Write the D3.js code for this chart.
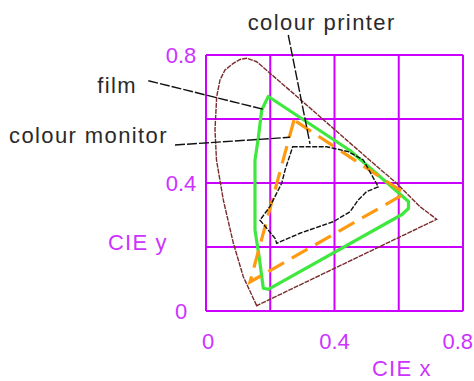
<!DOCTYPE html>
<html>
<head>
<meta charset="utf-8">
<script src="https://cdn.jsdelivr.net/npm/d3@7"></script>
<style>
  html, body { margin: 0; padding: 0; background: #fff; }
  svg { display: block; }
  text { font-family: "Liberation Sans", Arial, sans-serif; }
</style>
</head>
<body>
<svg id="chart" width="474" height="381"></svg>
<script>
// Chromaticity coordinates (CIE x, CIE y)
const gridTicks = [0, 0.2, 0.4, 0.6, 0.8];
const axisTickLabels = [0, 0.4, 0.8];

// spectral locus, closed by the line of purples
const spectralLocus = [
  [0.1578, 0.0166], [0.1161, 0.107], [0.085, 0.2125], [0.0539, 0.347],
  [0.0326, 0.472], [0.028, 0.566], [0.0333, 0.670], [0.0436, 0.722],
  [0.0591, 0.753], [0.085, 0.774], [0.1059, 0.786], [0.1266, 0.790],
  [0.1578, 0.779], [0.1993, 0.743], [0.2718, 0.680], [0.4379, 0.534],
  [0.5208, 0.4616], [0.5935, 0.399], [0.666, 0.326], [0.718, 0.2866]
];

// film gamut
const filmGamut = [
  [0.1939, 0.6703], [0.1734, 0.628], [0.1628, 0.5406], [0.1525, 0.472],
  [0.1525, 0.253], [0.165, 0.172], [0.1784, 0.071], [0.1939, 0.0678],
  [0.610, 0.3016], [0.6303, 0.3203], [0.6303, 0.3422], [0.4483, 0.5016]
];

// colour printer gamut
const printerGamut = [
  [0.2739, 0.5969], [0.137, 0.0906], [0.6194, 0.3672]
];

// colour monitor gamut
const monitorGamut = [
  [0.2699, 0.5134], [0.3756, 0.5134], [0.4429, 0.498], [0.4896, 0.472],
  [0.5158, 0.425], [0.5363, 0.388], [0.500, 0.373], [0.4738, 0.347],
  [0.4481, 0.310], [0.3963, 0.279], [0.2925, 0.243], [0.220, 0.2116],
  [0.215, 0.227], [0.1681, 0.284], [0.1988, 0.326], [0.2356, 0.399],
  [0.2463, 0.441]
];

// callouts: label text, label point, leader start, leader end (chart units)
const callouts = [
  { text: "film", anchor: "end", at: [-0.2148, 0.681], from: [-0.1796, 0.7197], to: [0.1784, 0.6303] },
  { text: "colour monitor", anchor: "end", at: [-0.1183, 0.525], from: [-0.0965, 0.5188], to: [0.2615, 0.5428] },
  { text: "colour printer", anchor: "middle", at: [0.3601, 0.878], from: [0.2561, 0.8625], to: [0.3238, 0.522] }
];

const svg = d3.select("#chart");
const x = d3.scaleLinear().domain([0, 0.8]).range([206, 463]);
const y = d3.scaleLinear().domain([0, 0.8]).range([311, 55]);

const grid = "#cc00ff";
const tickColor = "#cc33ff";

// grid
const g = svg.append("g");
g.selectAll("line.v").data(gridTicks).join("line")
  .attr("x1", d => x(d)).attr("x2", d => x(d))
  .attr("y1", y(0)).attr("y2", y(0.8))
  .attr("stroke", grid).attr("stroke-width", 2);
g.selectAll("line.h").data(gridTicks).join("line")
  .attr("y1", d => y(d)).attr("y2", d => y(d))
  .attr("x1", x(0)).attr("x2", x(0.8))
  .attr("stroke", grid).attr("stroke-width", 2);

// tick labels
svg.append("g").selectAll("text").data(axisTickLabels).join("text")
  .attr("x", 181).attr("y", d => y(d)).attr("dy", "0.36em")
  .attr("text-anchor", "middle")
  .attr("font-size", 22).attr("fill", tickColor)
  .text(d => d === 0 ? "0" : d.toString());
svg.append("g").selectAll("text").data(axisTickLabels).join("text")
  .attr("x", (d, i) => i === axisTickLabels.length - 1 ? 473 : x(d) + (d === 0 ? 2 : 0))
  .attr("y", 349)
  .attr("text-anchor", (d, i) => i === axisTickLabels.length - 1 ? "end" : "middle")
  .attr("font-size", 22).attr("fill", tickColor)
  .text(d => d === 0 ? "0" : d.toString());

// axis titles
svg.append("text").attr("x", 108).attr("y", 250)
  .attr("font-size", 22).attr("letter-spacing", 1.2).attr("fill", tickColor).text("CIE y");
svg.append("text").attr("x", 372).attr("y", 376)
  .attr("font-size", 22).attr("letter-spacing", 1.2).attr("fill", tickColor).text("CIE x");

const closed = d3.line().x(d => x(d[0])).y(d => y(d[1])).curve(d3.curveLinearClosed);

// spectral locus
svg.append("path").attr("d", closed(spectralLocus))
  .attr("fill", "none").attr("stroke", "#7a2c2c").attr("stroke-width", 1.4)
  .attr("stroke-dasharray", "5,1");

// film
svg.append("path").attr("d", closed(filmGamut))
  .attr("fill", "none").attr("stroke", "#3fe83f").attr("stroke-width", 3.2)
  .attr("stroke-linejoin", "round");

// colour printer
svg.append("path").attr("d", closed(printerGamut))
  .attr("fill", "none").attr("stroke", "#ff9a10").attr("stroke-width", 3.2)
  .attr("stroke-dasharray", "18,9");

// colour monitor
svg.append("path").attr("d", closed(monitorGamut))
  .attr("fill", "none").attr("stroke", "#111").attr("stroke-width", 1.4)
  .attr("stroke-dasharray", "5,1.5");

// callouts
const c = svg.append("g");
c.selectAll("line").data(callouts).join("line")
  .attr("x1", d => x(d.from[0])).attr("y1", d => y(d.from[1]))
  .attr("x2", d => x(d.to[0])).attr("y2", d => y(d.to[1]))
  .attr("stroke", "#111").attr("stroke-width", 1.4)
  .attr("stroke-dasharray", "10,2");
c.selectAll("text").data(callouts).join("text")
  .attr("x", d => x(d.at[0])).attr("y", d => y(d.at[1]))
  .attr("text-anchor", d => d.anchor)
  .attr("font-size", 22).attr("letter-spacing", 1.4).attr("fill", "#2a2a2a")
  .text(d => d.text);
</script>
</body>
</html>
